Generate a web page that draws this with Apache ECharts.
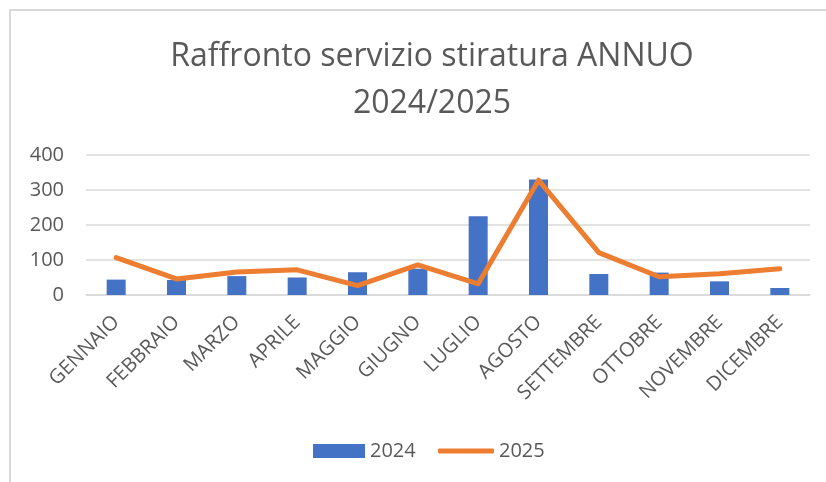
<!DOCTYPE html>
<html>
<head>
<meta charset="utf-8">
<script src="https://cdn.jsdelivr.net/npm/echarts@6/dist/echarts.min.js"></script>
<style>
  html, body { margin: 0; padding: 0; background: #fff; }
  #chart { width: 826px; height: 482px; }
</style>
</head>
<body>
<div id="chart"></div>
<script>
const months = ['GENNAIO', 'FEBBRAIO', 'MARZO', 'APRILE', 'MAGGIO', 'GIUGNO',
  'LUGLIO', 'AGOSTO', 'SETTEMBRE', 'OTTOBRE', 'NOVEMBRE', 'DICEMBRE'];
const values2024 = [44, 43, 54, 50, 65, 75, 225, 330, 60, 64, 39, 20];
const values2025 = [107, 46, 66, 72, 27, 86, 32, 328, 121, 52, 61, 75];
const yTicks = [0, 100, 200, 300, 400];

const textColor = '#595959';
const fontFamily = '"Open Sans", sans-serif';

const myChart = echarts.init(document.getElementById('chart'));
const option = {
  backgroundColor: '#fff',
  animation: false,
  textStyle: { fontFamily },
  title: {
    text: 'Raffronto servizio stiratura ANNUO\n2024/2025',
    left: 427,
    top: 28,
    textAlign: 'center',
    textStyle: {
      color: textColor,
      fontSize: 32,
      fontWeight: 'normal',
      lineHeight: 47,
      fontFamily,
    },
  },
  graphic: [{
    type: 'rect',
    shape: { x: 10, y: 10, width: 900, height: 600 },
    style: { fill: 'none', stroke: '#d9d9d9', lineWidth: 2 },
    silent: true,
  }],
  // two legends so the line key can be thinner than the bar key
  legend: [
    {
      left: 313,
      top: 441,
      padding: 0,
      itemWidth: 52,
      itemHeight: 14,
      icon: 'rect',
      textStyle: { color: textColor, fontSize: 20, fontFamily },
      data: ['2024'],
    },
    {
      left: 438,
      top: 441,
      padding: 0,
      itemWidth: 56,
      itemHeight: 5,
      icon: 'roundRect',
      textStyle: { color: textColor, fontSize: 20, fontFamily },
      data: ['2025'],
    },
  ],
  grid: {
    left: 86,
    right: 16,
    top: 155,
    bottom: 187,
    containLabel: false,
  },
  xAxis: {
    type: 'category',
    data: months,
    axisLine: { lineStyle: { color: '#d9d9d9', width: 1.5 } },
    axisTick: { show: false },
    axisLabel: {
      rotate: 45,
      interval: 0,
      margin: 24,
      color: textColor,
      fontSize: 20,
      fontFamily,
    },
  },
  yAxis: {
    type: 'value',
    min: yTicks[0],
    max: yTicks[yTicks.length - 1],
    interval: 100,
    axisLine: { show: false },
    axisTick: { show: false },
    axisLabel: {
      margin: 22,
      color: textColor,
      fontSize: 20,
      fontFamily,
    },
    splitLine: { lineStyle: { color: '#d9d9d9', width: 1.5 } },
  },
  series: [
    {
      name: '2024',
      type: 'bar',
      data: values2024,
      barWidth: 19,
      itemStyle: { color: '#4472C4' },
    },
    {
      name: '2025',
      type: 'line',
      data: values2025,
      symbol: 'none',
      lineStyle: { color: '#ED7D31', width: 5, cap: 'round', join: 'round' },
      itemStyle: { color: '#ED7D31' },
    },
  ],
};
myChart.setOption(option);
window.addEventListener('resize', () => {
  myChart.resize();
});
</script>
</body>
</html>
